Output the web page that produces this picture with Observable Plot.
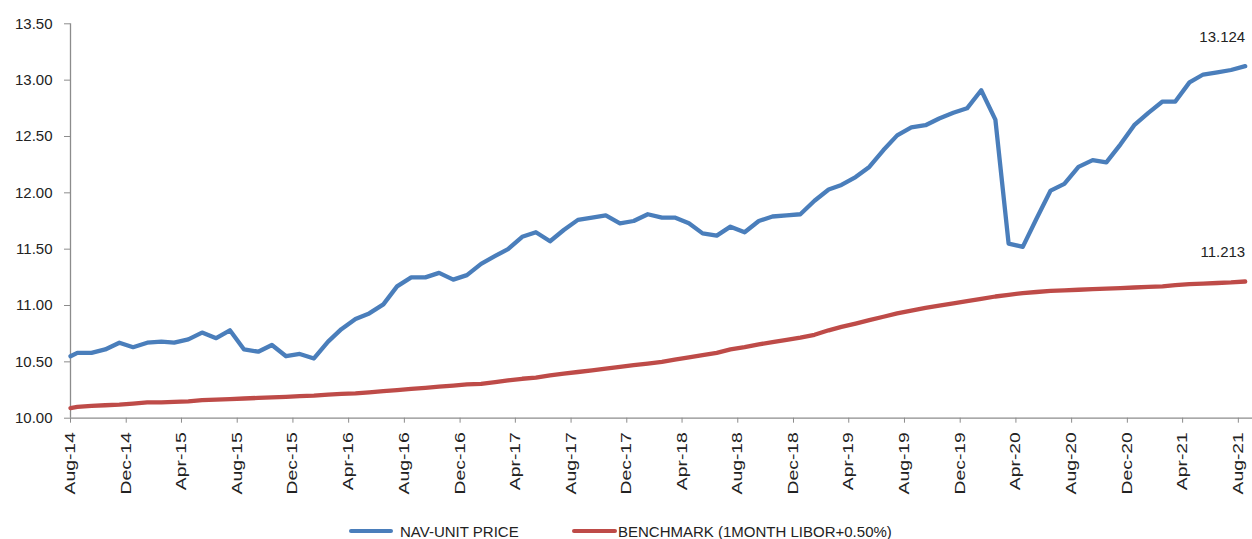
<!DOCTYPE html>
<html>
<head>
<meta charset="utf-8">
<script src="https://cdn.jsdelivr.net/npm/d3@7"></script>
<script src="https://cdn.jsdelivr.net/npm/@observablehq/plot@0.6"></script>
<style>
  html, body { margin: 0; padding: 0; background: #fff; }
  #chart svg { display: block; }
  #legend { display: flex; justify-content: flex-start; align-items: center; height: 52px; padding-left: 349px;
    font-family: "Liberation Sans", Arial, sans-serif; font-size: 15px; color: #222; }
  #legend .sw { display: inline-block; height: 4px; border-radius: 2px; }
  #legend .tx { display: inline-block; white-space: nowrap; }
</style>
</head>
<body>
<div id="chart"></div>
<div id="legend"></div>
<script>
// ---- data ----
const months = [
  "2014-08","2014-09","2014-10","2014-11","2014-12",
  "2015-01","2015-02","2015-03","2015-04","2015-05","2015-06","2015-07","2015-08","2015-09","2015-10","2015-11","2015-12",
  "2016-01","2016-02","2016-03","2016-04","2016-05","2016-06","2016-07","2016-08","2016-09","2016-10","2016-11","2016-12",
  "2017-01","2017-02","2017-03","2017-04","2017-05","2017-06","2017-07","2017-08","2017-09","2017-10","2017-11","2017-12",
  "2018-01","2018-02","2018-03","2018-04","2018-05","2018-06","2018-07","2018-08","2018-09","2018-10","2018-11","2018-12",
  "2019-01","2019-02","2019-03","2019-04","2019-05","2019-06","2019-07","2019-08","2019-09","2019-10","2019-11","2019-12",
  "2020-01","2020-02","2020-03","2020-04","2020-05","2020-06","2020-07","2020-08","2020-09","2020-10","2020-11","2020-12",
  "2021-01","2021-02","2021-03","2021-04","2021-05","2021-06","2021-07","2021-08"
];
const navValues = [
  10.58,10.58,10.61,10.67,10.63,
  10.67,10.68,10.67,10.70,10.76,10.71,10.78,10.61,10.59,10.65,10.55,10.57,
  10.53,10.68,10.79,10.88,10.93,11.01,11.17,11.25,11.25,11.29,11.23,11.27,
  11.37,11.44,11.50,11.61,11.65,11.57,11.67,11.76,11.78,11.80,11.73,11.75,
  11.81,11.78,11.78,11.73,11.64,11.62,11.70,11.65,11.75,11.79,11.80,11.81,
  11.93,12.03,12.07,12.14,12.23,12.38,12.51,12.58,12.60,12.66,12.71,12.75,
  12.91,12.65,11.55,11.52,11.77,12.02,12.08,12.23,12.29,12.27,12.43,12.60,
  12.71,12.81,12.81,12.98,13.05,13.07,13.09,13.124
];
const benchValues = [
  10.10,10.11,10.115,10.12,10.13,
  10.14,10.14,10.145,10.15,10.16,10.165,10.17,10.175,10.18,10.185,10.19,10.195,
  10.20,10.21,10.215,10.22,10.23,10.24,10.25,10.26,10.27,10.28,10.29,10.30,
  10.305,10.32,10.335,10.35,10.36,10.38,10.395,10.41,10.425,10.44,10.455,10.47,
  10.485,10.50,10.52,10.54,10.56,10.58,10.61,10.63,10.655,10.675,10.695,10.715,
  10.74,10.78,10.81,10.84,10.87,10.90,10.93,10.955,10.98,11.00,11.02,11.04,
  11.06,11.08,11.095,11.11,11.12,11.13,11.135,11.14,11.145,11.15,11.155,11.16,
  11.165,11.17,11.18,11.19,11.195,11.20,11.205,11.213
];
const inception = { date: "2014-08-01", nav: 10.55, bench: 10.09 };
const tickLabels = ["Aug-14","Dec-14","Apr-15","Aug-15","Dec-15","Apr-16","Aug-16","Dec-16","Apr-17","Aug-17","Dec-17",
  "Apr-18","Aug-18","Dec-18","Apr-19","Aug-19","Dec-19","Apr-20","Aug-20","Dec-20","Apr-21","Aug-21"];
const yTicks = [10, 10.5, 11, 11.5, 12, 12.5, 13, 13.5];
const seriesNames = ["NAV-UNIT PRICE", "BENCHMARK (1MONTH LIBOR+0.50%)"];
const seriesColors = ["#4A7EBB", "#BE4B48"];

// ---- build tables ----
const pointDate = m => new Date(m + "-16T00:00:00Z");
const navData = [{date: new Date(inception.date + "T00:00:00Z"), value: inception.nav}]
  .concat(months.map((m, i) => ({date: pointDate(m), value: navValues[i]})));
const benchData = [{date: new Date(inception.date + "T00:00:00Z"), value: inception.bench}]
  .concat(months.map((m, i) => ({date: pointDate(m), value: benchValues[i]})));
const parseTick = d3.utcParse("%b-%y");
const tickDates = tickLabels.map(parseTick);
const fmt3 = d3.format(".3f");
const endLabels = [
  {date: navData[navData.length - 1].date, value: navValues[navValues.length - 1]},
  {date: benchData[benchData.length - 1].date, value: benchValues[benchValues.length - 1]}
];

const axisColor = "#8c8c8c";
const font = "'Liberation Sans', Arial, sans-serif";

const chart = Plot.plot({
  width: 1252,
  height: 505,
  marginLeft: 70,
  marginRight: 0,
  marginTop: 23.3,
  marginBottom: 87.3,
  style: {fontFamily: font, fontSize: "15px", color: "#222", background: "#fff"},
  x: {type: "utc", domain: [new Date("2014-08-01T00:00:00Z"), new Date("2021-09-01T00:00:00Z")]},
  y: {domain: [10, 13.5]},
  marks: [
    Plot.axisY({ticks: yTicks, tickFormat: d3.format(".2f"), tickSize: 6, tickPadding: 12,
      stroke: axisColor, fill: "#222", fontSize: 15, label: null}),
    Plot.axisX({ticks: tickDates, tickFormat: d3.utcFormat("%b-%y"), tickSize: 5, tickPadding: 9,
      tickRotate: -90, stroke: axisColor, fill: "#222", fontSize: 14, label: null}),
    Plot.ruleX([tickDates[0]], {y1: 10, y2: 13.5, stroke: axisColor, strokeWidth: 1.3}),
    Plot.ruleY([10], {stroke: axisColor, strokeWidth: 1.3}),
    Plot.line(benchData, {x: "date", y: "value", stroke: seriesColors[1], strokeWidth: 4.3,
      strokeLinejoin: "round", strokeLinecap: "round"}),
    Plot.line(navData, {x: "date", y: "value", stroke: seriesColors[0], strokeWidth: 4.3,
      strokeLinejoin: "round", strokeLinecap: "round"}),
    Plot.text(endLabels, {x: "date", y: "value", text: d => fmt3(d.value), dy: -29,
      textAnchor: "end", fill: "#222", fontSize: 15})
  ]
});
// stretch the rotated month labels along their length, as in the original
const monthLabel = /^[A-Z][a-z]{2}-\d\d$/;
chart.querySelectorAll("text").forEach(t => {
  if (monthLabel.test(t.textContent.trim())) {
    const tr = t.getAttribute("transform") || "";
    t.setAttribute("transform", tr + " scale(1.38,1)");
  }
});
document.getElementById("chart").appendChild(chart);

// ---- legend ----
const legend = document.getElementById("legend");
const legendLayout = [{before: 0, after: 7, w: 44, tw: 130}, {before: 42, after: 1, w: 45, tw: null}];
seriesNames.forEach((name, i) => {
  const sw = document.createElement("span");
  sw.className = "sw";
  sw.style.width = legendLayout[i].w + "px";
  sw.style.background = seriesColors[i];
  sw.style.marginLeft = legendLayout[i].before + "px";
  sw.style.marginRight = legendLayout[i].after + "px";
  const tx = document.createElement("span");
  tx.className = "tx";
  tx.textContent = name;
  if (legendLayout[i].tw) tx.style.width = legendLayout[i].tw + "px";
  legend.appendChild(sw);
  legend.appendChild(tx);
});
</script>
</body>
</html>
